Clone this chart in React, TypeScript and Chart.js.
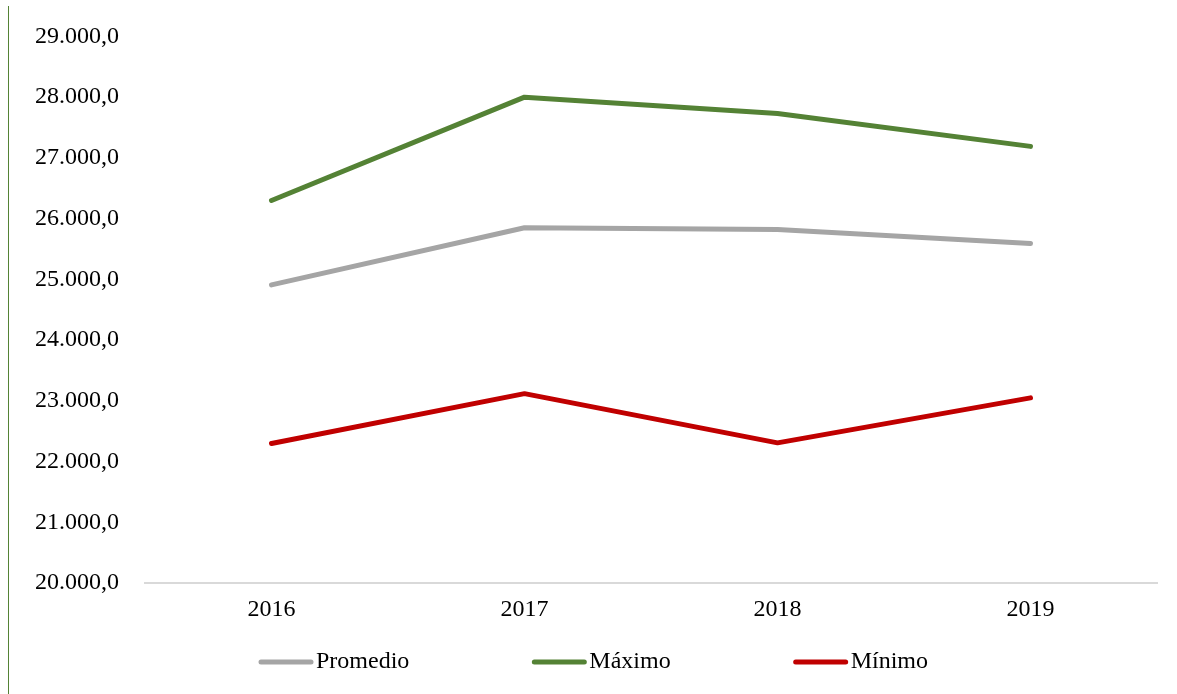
import React, { useEffect, useRef } from "react";
import { Chart, registerables } from "chart.js";

Chart.register(...registerables);

const years = ["2016", "2017", "2018", "2019"];
const promedio = [24910, 25850, 25820, 25590];
const maximo = [26300, 28000, 27730, 27190];
const minimo = [22300, 23120, 22310, 23050];
const seriesNames = ["Promedio", "Máximo", "Mínimo"];
const seriesColors = ["#A5A5A5", "#548235", "#C00000"];

const FONT = "'Liberation Serif', 'Times New Roman', serif";

function formatTick(v: number): string {
  const n = Math.round(v);
  const s = String(n).replace(/\B(?=(\d{3})+(?!\d))/g, ".");
  return s + ",0";
}

const customLegend = {
  id: "customLegend",
  afterDraw(chart: any) {
    const ctx = chart.ctx;
    const datasets = chart.data.datasets;
    const sample = 56;
    const gap = 122;
    ctx.save();
    ctx.font = `24px ${FONT}`;
    const widths = datasets.map((d: any) => sample + 2 + ctx.measureText(d.label).width);
    const total = widths.reduce((a: number, b: number) => a + b, 0) + gap * (datasets.length - 1);
    let x = chart.width / 2 - total / 2;
    const y = chart.height - 32;
    datasets.forEach((d: any, i: number) => {
      ctx.strokeStyle = d.borderColor;
      ctx.lineWidth = 5;
      ctx.lineCap = "round";
      ctx.beginPath();
      ctx.moveTo(x + 3, y);
      ctx.lineTo(x + sample - 3, y);
      ctx.stroke();
      ctx.fillStyle = "#000";
      ctx.textBaseline = "middle";
      ctx.textAlign = "left";
      ctx.fillText(d.label, x + sample + 2, y);
      x += widths[i] + gap;
    });
    ctx.restore();
  },
};

export default function App() {
  const ref = useRef<HTMLCanvasElement | null>(null);

  useEffect(() => {
    document.body.style.margin = "0";
    document.body.style.overflow = "hidden";
    const values = [promedio, maximo, minimo];
    const chart = new Chart(ref.current as HTMLCanvasElement, {
      type: "line",
      data: {
        labels: years,
        datasets: values.map((v, i) => ({
          label: seriesNames[i],
          data: v,
          borderColor: seriesColors[i],
          backgroundColor: seriesColors[i],
          borderWidth: 5,
          pointRadius: 0,
          pointHoverRadius: 0,
          tension: 0,
          fill: false,
          borderCapStyle: "round" as const,
          borderJoinStyle: "round" as const,
        })),
      },
      options: {
        animation: false,
        responsive: false,
        maintainAspectRatio: false,
        layout: { padding: { left: 0, right: 20, top: 20, bottom: 58 } },
        plugins: {
          legend: { display: false },
          tooltip: { enabled: false },
        },
        scales: {
          x: {
            offset: true,
            grid: { display: false, drawTicks: false },
            border: { display: true, color: "#D9D9D9", width: 2 },
            ticks: { color: "#000", font: { family: FONT, size: 24 }, padding: 12 },
          },
          y: {
            min: 20000,
            max: 29000,
            grid: { display: false, drawTicks: false },
            border: { display: false },
            ticks: {
              stepSize: 1000,
              color: "#000",
              font: { family: FONT, size: 24 },
              padding: 26,
              callback: (v: any) => formatTick(Number(v)),
            },
          },
        },
      },
      plugins: [customLegend],
    });
    return () => chart.destroy();
  }, []);

  return (
    <div
      style={{
        position: "relative",
        marginLeft: 8,
        marginTop: 6,
        height: 688,
        width: 1169,
        borderLeft: "1px solid #548235",
        boxSizing: "border-box",
      }}
    >
      <canvas
        ref={ref}
        width={1168}
        height={698}
        style={{ display: "block", position: "absolute", left: 0, top: -10 }}
      />
    </div>
  );
}
